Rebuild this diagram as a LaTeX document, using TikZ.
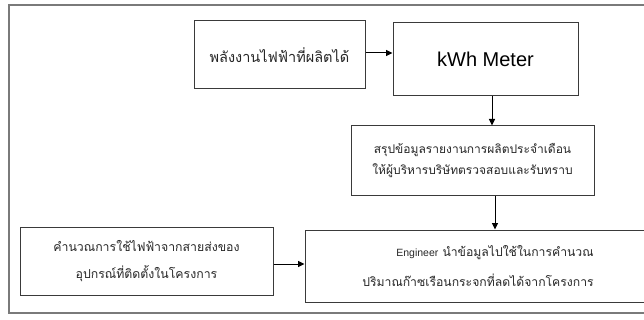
\documentclass[tikz,border=0pt]{standalone}
\usepackage{fontspec}
\setmainfont{Liberation Sans}
\newfontfamily\thai[Script=Thai]{Loma}
\usetikzlibrary{arrows.meta}
\definecolor{boxc}{HTML}{3A3A3A}
\definecolor{framec}{HTML}{7A7A7A}
\definecolor{txtc}{HTML}{262626}
\begin{document}
\begin{tikzpicture}[x=1pt,y=-1pt,
  box/.style={draw=boxc, line width=1pt, inner sep=0pt, align=center, text=txtc},
  thaitxt/.style={font=\thai\fontsize{12}{21}\selectfont},
  arr/.style={-{Triangle[length=6.5pt,width=6pt]}, line width=1pt, draw=black}]
\useasboundingbox (0,0) rectangle (644,320);
\clip (0,0) rectangle (644,320);
\draw[framec, line width=1.2pt] (9,5) rectangle (660,313);

\node[box, font=\thai\fontsize{14.5}{18}\selectfont, minimum width=171pt, minimum height=68pt] (src) at (279.5,55) {พลังงานไฟฟ้าที่ผลิตได้};
\node[box, font=\fontsize{20}{24}\selectfont, text=black, minimum width=185pt, minimum height=73pt] (kwh) at (485.5,59.5) {kWh Meter};
\node[box, thaitxt, minimum width=243pt, minimum height=70pt] (sum) at (472.5,161) {สรุปข้อมูลรายงานการผลิตประจำเดือน\\ให้ผู้บริหารบริษัทตรวจสอบและรับทราบ};
\node[box, font=\thai\fontsize{12.3}{27}\selectfont, minimum width=253pt, minimum height=68pt] (calc) at (146.5,261) {คำนวณการใช้ไฟฟ้าจากสายส่งของ\\อุปกรณ์ที่ติดตั้งในโครงการ};
\node[box, font=\thai\fontsize{12.2}{30}\selectfont, minimum width=346pt, minimum height=72pt] (eng) at (478,266) {\hspace*{34pt}{\rmfamily\fontsize{10.5}{30}\selectfont Engineer} นำข้อมูลไปใช้ในการคำนวณ\\ปริมาณก๊าซเรือนกระจกที่ลดได้จากโครงการ};

\draw[arr] (src.east |- 0,53) -- (kwh.west |- 0,53);
\draw[arr] (kwh.south -| 492,0) -- (sum.north -| 492,0);
\draw[arr] (sum.south -| 495,0) -- (eng.north -| 495,0);
\draw[arr] (calc.east |- 0,264) -- (eng.west |- 0,264);
\end{tikzpicture}
\end{document}
